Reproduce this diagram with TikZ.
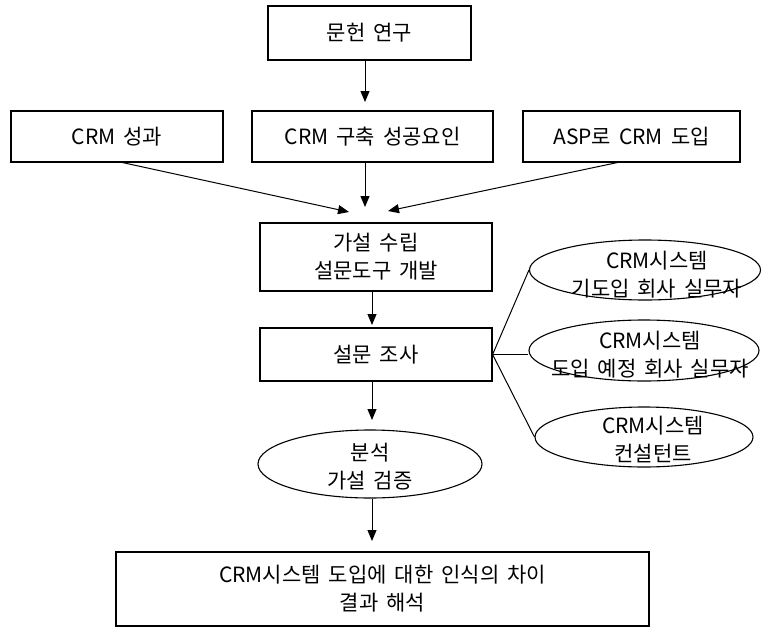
\documentclass[tikz,border=0pt]{standalone}
\usepackage{fontspec}
\setmainfont{Noto Sans CJK KR}[WordSpace=1.7]
\usetikzlibrary{arrows.meta,shapes.geometric,calc}
\begin{document}
\begin{tikzpicture}[x=1pt,y=-1pt,
  box/.style={draw,line width=1.2pt,rectangle,inner sep=0pt,align=center},
  oval/.style={draw,line width=1.1pt,ellipse,inner sep=0pt},
  lbl/.style={align=center,inner sep=0pt},
  arr/.style={line width=1pt,-{Triangle[length=11pt,width=9pt]}},
  ln/.style={line width=1pt},
  every node/.style={font=\fontsize{21}{28}\selectfont}]
\useasboundingbox (0,0) rectangle (762,629);
% boxes
\node[box,minimum width=203pt,minimum height=54pt] (b1) at (369.5,33) {문헌 연구};
\node[box,minimum width=212pt,minimum height=51pt] (b2a) at (117,136.5) {CRM 성과};
\node[box,minimum width=241pt,minimum height=51pt] (b2b) at (372.5,136.5) {CRM 구축 성공요인};
\node[box,minimum width=217pt,minimum height=51pt] (b2c) at (631.5,136.5) {ASP로 CRM 도입};
\node[box,minimum width=232pt,minimum height=68pt] (b3) at (376,257) {가설 수립\\설문도구 개발};
\node[box,minimum width=232pt,minimum height=53pt] (b4) at (376,354.5) {설문 조사};
\node[oval,minimum width=224pt,minimum height=68pt] (e5) at (370,464) {};
\node[lbl] (e5t) at (370,467) {분석\\가설 검증};
\node[box,minimum width=533pt,minimum height=74pt] (b6) at (382.5,589) {CRM시스템 도입에 대한 인식의 차이\\결과 해석};
% right ellipses
\node[oval,minimum width=231pt,minimum height=60pt] (e1) at (645,270) {};
\node[lbl] (e1t) at (657,275) {CRM시스템\\기도입 회사 실무자};
\node[oval,minimum width=230pt,minimum height=61pt] (e2) at (644,350.5) {};
\node[lbl] (e2t) at (650,355) {CRM시스템\\도입 예정 회사 실무자};
\node[oval,minimum width=218pt,minimum height=60pt] (e3) at (644,437) {};
\node[lbl] (e3t) at (653,440) {CRM시스템\\컨설턴트};
% arrow end points
\coordinate (c1) at (365,102);
\coordinate (c2) at (365,207);
\coordinate (t1) at (349,212);
\coordinate (t3) at (388,211);
\coordinate (s1) at (120,162);
\coordinate (s3) at (620,162);
\coordinate (c3) at (372,325);
\coordinate (c4) at (372,420);
\coordinate (c5) at (372,541);
% connectors
\draw[arr] (b1.south -| c1) -- (c1);
\draw[arr] (b2b.south -| c2) -- (c2);
\draw[arr] (s1) -- (t1);
\draw[arr] (s3) -- (t3);
\draw[arr] (b3.south -| c3) -- (c3);
\draw[arr] (b4.south -| c4) -- (c4);
\draw[arr] (e5.south -| c5) -- (c5);
\draw[ln] (b4.east) -- (e1.west);
\draw[ln] (b4.east) -- (b4.east -| e2.west);
\draw[ln] (b4.east) -- (e3.west);
\end{tikzpicture}
\end{document}
